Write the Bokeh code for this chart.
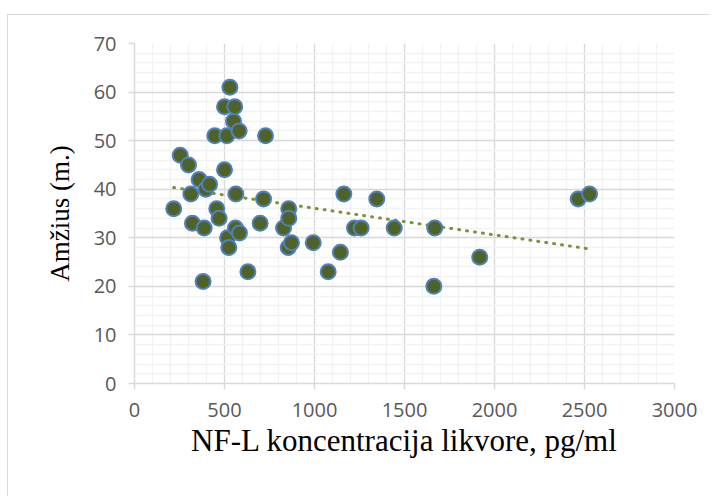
import numpy as np
from bokeh.plotting import figure
from bokeh.models import SingleIntervalTicker, Range1d
from bokeh.embed import file_html
from bokeh.resources import INLINE

# NF-L concentration (pg/ml) and age (years)
nfl = [218, 254, 300, 313, 322, 359, 381, 387, 396, 417, 446, 457, 470, 500, 500,
       513, 517, 524, 530, 550, 557, 561, 563, 581, 583, 630, 698, 717, 728, 828,
       854, 857, 857, 872, 993, 1076, 1144, 1163, 1222, 1259, 1346, 1443, 1668,
       1663, 1918, 2465, 2528]
age = [36, 47, 45, 39, 33, 42, 21, 32, 40, 41, 51, 36, 34, 57, 44,
       51, 30, 28, 61, 54, 57, 32, 39, 52, 31, 23, 33, 38, 51, 32,
       28, 36, 34, 29, 29, 23, 27, 39, 32, 32, 38, 32, 32,
       20, 26, 38, 39]

x_title = "NF-L koncentracija likvore, pg/ml"
y_title = "Amžius (m.)"

p = figure(width=703, height=482, output_backend="svg", toolbar_location=None,
           x_range=Range1d(0, 3000), y_range=Range1d(0, 70),
           min_border_left=126, min_border_right=37, min_border_top=28,
           min_border_bottom=114,
           styles={"margin-left": "7px", "margin-top": "14px",
                   "border-left": "1.5px solid #D9D9D9",
                   "border-top": "1.5px solid #D9D9D9"})
p.outline_line_color = None

# grids
p.xaxis.ticker = SingleIntervalTicker(interval=500, num_minor_ticks=5)
p.yaxis.ticker = SingleIntervalTicker(interval=10, num_minor_ticks=5)
for g in (p.xgrid, p.ygrid):
    g.grid_line_color = "#D9D9D9"
    g.grid_line_width = 1.3
    g.minor_grid_line_color = "#F2F2F2"
    g.minor_grid_line_width = 1.3

for ax in (p.xaxis, p.yaxis):
    ax.axis_line_color = "#D9D9D9"
    ax.axis_line_width = 1.5
    ax.major_tick_line_color = "#D9D9D9"
    ax.major_tick_line_width = 1.5
    ax.major_tick_in = 0
    ax.major_tick_out = 6
    ax.minor_tick_line_color = None
    ax.major_label_text_font = "Open Sans"
    ax.major_label_text_font_size = "20px"
    ax.major_label_text_color = "#595959"
    ax.axis_label_text_font = "Liberation Serif"
    ax.axis_label_text_font_style = "normal"
    ax.axis_label_text_color = "#000000"

p.xaxis.axis_label = x_title
p.yaxis.axis_label = y_title
p.xaxis.axis_label_text_font_size = "31px"
p.yaxis.axis_label_text_font_size = "27px"
p.xaxis.major_label_standoff = 13
p.yaxis.major_label_standoff = 12
p.xaxis.axis_label_standoff = 3
p.yaxis.axis_label_standoff = 16

# linear trendline (least squares)
xs = np.array(nfl, dtype=float)
ys = np.array(age, dtype=float)
k, b = np.polyfit(xs, ys, 1)
tx = np.array([xs.min(), xs.max()])
p.line(tx, k * tx + b, line_color="#77933C", line_width=3,
       line_dash="1 7", line_cap="round")

p.scatter(nfl, age, size=15, fill_color="#4F6228", line_color="#4F81BD",
          line_width=2)

open("out.html", "w").write(file_html(p, INLINE))
